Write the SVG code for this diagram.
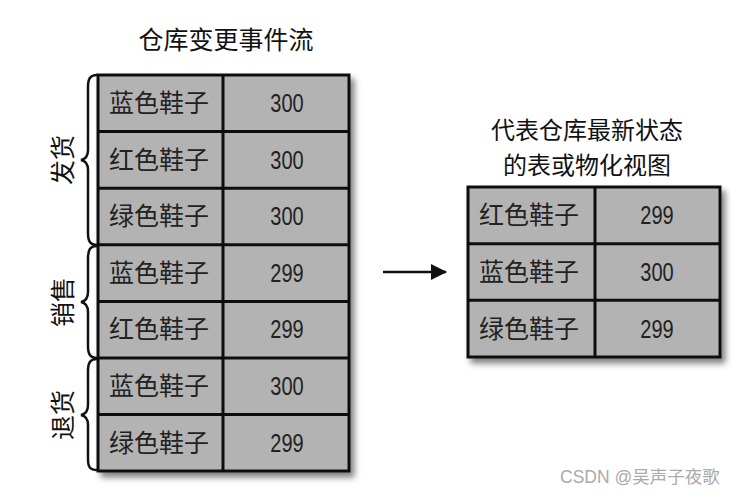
<svg xmlns="http://www.w3.org/2000/svg" width="746" height="496" viewBox="0 0 746 496">
<style>
.cell{fill:#b3b3b3;stroke:#111;stroke-width:3}
.t{font-family:"Noto Sans CJK SC","Liberation Sans",sans-serif;font-size:25px;fill:#222}
.n{font-family:"Liberation Sans",sans-serif;font-size:25px;fill:#222;text-anchor:middle}
.h{font-family:"Noto Sans CJK SC","Liberation Sans",sans-serif;font-size:25px;fill:#111;text-anchor:middle}
.h2{font-family:"Noto Sans CJK SC","Liberation Sans",sans-serif;font-size:24px;fill:#111;text-anchor:middle}
.br{fill:none;stroke:#111;stroke-width:2.5}
</style>
<defs>
<filter id="sh" x="-10%" y="-10%" width="130%" height="130%">
<feGaussianBlur in="SourceAlpha" stdDeviation="3"/>
<feOffset dx="4" dy="5"/>
<feComponentTransfer><feFuncA type="linear" slope="0.5"/></feComponentTransfer>
<feMerge><feMergeNode/><feMergeNode in="SourceGraphic"/></feMerge>
</filter>
<marker id="ah" markerWidth="16" markerHeight="16" refX="15" refY="8" orient="auto" markerUnits="userSpaceOnUse">
<path d="M0,0 L16,8 L0,16 Z" fill="#111"/>
</marker>
</defs>
<text class="h" x="226" y="49">仓库变更事件流</text>
<text class="h2" x="587" y="139">代表仓库最新状态</text>
<text class="h2" x="587" y="174">的表或物化视图</text>

<g id="events" filter="url(#sh)">
<rect class="cell" x="98" y="75" width="251" height="396"/>
<g stroke="#111" stroke-width="3">
<line x1="223" y1="75" x2="223" y2="471"/>
<line x1="98" y1="131.6" x2="349" y2="131.6"/>
<line x1="98" y1="188.2" x2="349" y2="188.2"/>
<line x1="98" y1="244.8" x2="349" y2="244.8"/>
<line x1="98" y1="301.4" x2="349" y2="301.4"/>
<line x1="98" y1="358" x2="349" y2="358"/>
<line x1="98" y1="414.6" x2="349" y2="414.6"/>
</g>
</g>
<g id="event-rows">
<text class="t" x="109" y="112">蓝色鞋子</text><text class="n" transform="translate(287,112) scale(0.8,1)">300</text>
<text class="t" x="109" y="169">红色鞋子</text><text class="n" transform="translate(287,169) scale(0.8,1)">300</text>
<text class="t" x="109" y="225">绿色鞋子</text><text class="n" transform="translate(287,225) scale(0.8,1)">300</text>
<text class="t" x="109" y="282">蓝色鞋子</text><text class="n" transform="translate(287,282) scale(0.8,1)">299</text>
<text class="t" x="109" y="338">红色鞋子</text><text class="n" transform="translate(287,338) scale(0.8,1)">299</text>
<text class="t" x="109" y="395">蓝色鞋子</text><text class="n" transform="translate(287,395) scale(0.8,1)">300</text>
<text class="t" x="109" y="452">绿色鞋子</text><text class="n" transform="translate(287,452) scale(0.8,1)">299</text>
</g>

<g id="brace-fahuo">
<path class="br" d="M97,75 C90,75 88,79 88,87 L88,150 C88,155 86,159 81,160 C86,161 88,165 88,170 L88,233 C88,241 90,245 97,245"/>
<text class="h" transform="translate(72,160) rotate(-90)" y="0">发货</text>
</g>
<g id="brace-xiaoshou">
<path class="br" d="M97,246 C90,246 88,250 88,258 L88,292 C88,297 86,301 81,302 C86,303 88,307 88,312 L88,346 C88,354 90,358 97,358"/>
<text class="h" transform="translate(72,302) rotate(-90)" y="0">销售</text>
</g>
<g id="brace-tuihuo">
<path class="br" d="M97,359 C90,359 88,363 88,371 L88,405 C88,410 86,414 81,415 C86,416 88,420 88,425 L88,459 C88,467 90,470 97,470"/>
<text class="h" transform="translate(72,415) rotate(-90)" y="0">退货</text>
</g>

<g id="connectors">
<line x1="383" y1="272" x2="446" y2="272" stroke="#111" stroke-width="2.5" marker-end="url(#ah)"/>
</g>

<g id="state" filter="url(#sh)">
<rect class="cell" x="468" y="187" width="252" height="170"/>
<g stroke="#111" stroke-width="3">
<line x1="595" y1="187" x2="595" y2="357"/>
<line x1="468" y1="243.7" x2="720" y2="243.7"/>
<line x1="468" y1="300.3" x2="720" y2="300.3"/>
</g>
</g>
<g id="state-rows">
<text class="t" x="479" y="224">红色鞋子</text><text class="n" transform="translate(657,224) scale(0.8,1)">299</text>
<text class="t" x="479" y="281">蓝色鞋子</text><text class="n" transform="translate(657,281) scale(0.8,1)">300</text>
<text class="t" x="479" y="338">绿色鞋子</text><text class="n" transform="translate(657,338) scale(0.8,1)">299</text>
</g>

<text x="560" y="483" font-family="'Liberation Sans','Noto Sans CJK SC',sans-serif" font-size="17.5" fill="#aaa">CSDN @吴声子夜歌</text>
</svg>
